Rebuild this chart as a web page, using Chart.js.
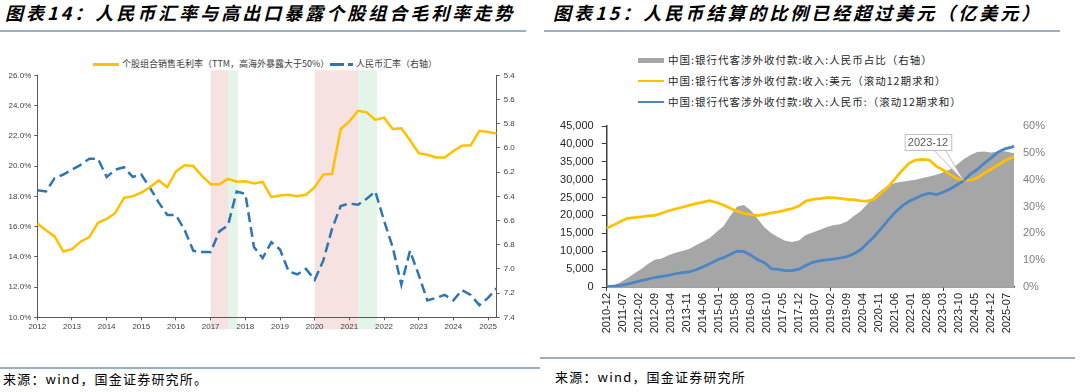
<!DOCTYPE html>
<html>
<head>
<meta charset="utf-8">
<script src="https://cdn.jsdelivr.net/npm/chart.js@4.4.1/dist/chart.umd.min.js"></script>
<style>
  body { margin: 0; background: #fff; width: 1080px; height: 392px; position: relative; overflow: hidden; font-family: "Noto Sans CJK SC", sans-serif; }
  .title { position: absolute; top: 0; line-height: 24px; font-size: 18px; font-weight: bold; font-style: italic; letter-spacing: 3px; color: #000; white-space: nowrap; }
  .rule { position: absolute; height: 2px; background: #98b0c2; }
  .src { position: absolute; font-size: 13px; line-height: 16px; color: #000; white-space: nowrap; letter-spacing: 1.2px; }
  .lg { position: absolute; font-size: 9px; line-height: 12px; color: #404040; white-space: nowrap; }
  .lg2 { position: absolute; font-size: 10.5px; line-height: 14px; color: #262626; white-space: nowrap; letter-spacing: 1px; }
  .sw { position: absolute; }
  canvas { position: absolute; }
</style>
</head>
<body>
<div class="title" style="left:5px">图表14：人民币汇率与高出口暴露个股组合毛利率走势</div>
<div class="title" style="left:553px">图表15：人民币结算的比例已经超过美元（亿美元）</div>
<div class="rule" style="left:0;width:526px;top:30px"></div>
<div class="rule" style="left:544px;width:516px;top:30px"></div>

<!-- left legend -->
<div class="sw" style="left:93px;top:63px;width:26px;height:2.5px;background:#ffc000"></div>
<div class="lg" style="left:122px;top:58px">个股组合销售毛利率（TTM，高海外暴露大于50%）</div>
<div class="sw" style="left:330px;top:63px;width:14px;height:2.5px;background:#2e75b6"></div>
<div class="sw" style="left:348px;top:63px;width:5px;height:2.5px;background:#2e75b6"></div>
<div class="lg" style="left:356px;top:58px">人民币汇率（右轴）</div>

<!-- right legend -->
<div class="sw" style="left:638px;top:58px;width:26px;height:5px;background:#a6a6a6"></div>
<div class="lg2" style="left:668px;top:53px">中国:银行代客涉外收付款:收入:人民币占比（右轴）</div>
<div class="sw" style="left:638px;top:79.5px;width:26px;height:2.5px;background:#ffc000"></div>
<div class="lg2" style="left:668px;top:74px">中国:银行代客涉外收付款:收入:美元（滚动12期求和）</div>
<div class="sw" style="left:638px;top:100.5px;width:26px;height:2.5px;background:#4a86c6"></div>
<div class="lg2" style="left:668px;top:95px">中国:银行代客涉外收付款:收入:人民币:（滚动12期求和）</div>

<canvas id="left" width="540" height="305" style="left:0;top:40px"></canvas>
<canvas id="right" width="540" height="240" style="left:540px;top:110px"></canvas>

<div class="rule" style="left:0;width:540px;top:367px"></div>
<div class="rule" style="left:540px;width:535px;top:357px"></div>
<div class="src" style="left:3px;top:371px">来源：wind，国金证券研究所。</div>
<div class="src" style="left:555px;top:369px">来源：wind，国金证券研究所</div>

<script>
// ---------- chart 14 data (quarterly) ----------
const quarters = [
  '2012Q1','2012Q2','2012Q3','2012Q4','2013Q1','2013Q2','2013Q3','2013Q4',
  '2014Q1','2014Q2','2014Q3','2014Q4','2015Q1','2015Q2','2015Q3','2015Q4',
  '2016Q1','2016Q2','2016Q3','2016Q4','2017Q1','2017Q2','2017Q3','2017Q4',
  '2018Q1','2018Q2','2018Q3','2018Q4','2019Q1','2019Q2','2019Q3','2019Q4',
  '2020Q1','2020Q2','2020Q3','2020Q4','2021Q1','2021Q2','2021Q3','2021Q4',
  '2022Q1','2022Q2','2022Q3','2022Q4','2023Q1','2023Q2','2023Q3','2023Q4',
  '2024Q1','2024Q2','2024Q3','2024Q4','2025Q1','2025Q2'
];
const grossMargin = [
  16.2, 15.75, 15.35, 14.35, 14.5, 15.0, 15.3, 16.25,
  16.5, 16.9, 17.9, 18.0, 18.25, 18.6, 19.05, 18.6,
  19.65, 20.05, 20.0, 19.35, 18.8, 18.8, 19.15, 18.97,
  19.0, 18.85, 18.95, 17.95, 18.05, 18.1, 18.0, 18.1,
  18.6, 19.45, 19.47, 22.45, 22.95, 23.65, 23.55, 23.05,
  23.2, 22.45, 22.5, 21.7, 20.85, 20.75, 20.57, 20.57,
  21.0, 21.35, 21.37, 22.33, 22.25, 22.15
];
const cnyRate = [
  6.35, 6.36, 6.25, 6.22, 6.18, 6.14, 6.09, 6.09,
  6.24, 6.18, 6.16, 6.24, 6.22, 6.33, 6.45, 6.555,
  6.555, 6.68, 6.85, 6.86, 6.86, 6.69, 6.64, 6.36,
  6.38, 6.82, 6.91, 6.78, 6.84, 7.02, 7.045, 7.0,
  7.09, 6.93, 6.67, 6.48, 6.46, 6.47, 6.42, 6.36,
  6.6, 6.82, 7.13, 6.85, 7.05, 7.26, 7.24, 7.215,
  7.26, 7.175, 7.215, 7.3, 7.24, 7.16
];
// shaded periods (years)
const shadeFrom = [2017, 2017.5, 2020, 2021.25];
const shadeTo = [2017.5, 2017.78, 2021.25, 2021.8];
const shadeColors = ['#f5e2e1', '#e3f4e8', '#f5e2e1', '#e3f4e8'];

// ---------- chart 15 data (monthly readings every quarter) ----------
const sampleMonths = [
  '2010-12','2011-03','2011-06','2011-09','2011-12','2012-03','2012-06','2012-09','2012-12',
  '2013-03','2013-06','2013-09','2013-12','2014-03','2014-06','2014-09','2014-12',
  '2015-03','2015-06','2015-09','2015-12','2016-03','2016-06','2016-09','2016-12',
  '2017-03','2017-06','2017-09','2017-12','2018-03','2018-06','2018-09','2018-12',
  '2019-03','2019-06','2019-09','2019-12','2020-03','2020-06','2020-09','2020-12',
  '2021-03','2021-06','2021-09','2021-12','2022-03','2022-06','2022-09','2022-12',
  '2023-03','2023-06','2023-09','2023-12','2024-03','2024-06','2024-09','2024-12',
  '2025-03','2025-06','2025-09','2025-10'
];
const usdSettle = [
  16400, 17300, 18300, 19200, 19400, 19600, 19900, 20050, 20600,
  21300, 21800, 22300, 22800, 23300, 23700, 24100, 23600,
  22900, 22000, 21200, 20600, 20250, 19950, 20300, 20700,
  21000, 21500, 21900, 22600, 24000, 24500, 24700, 25000,
  25000, 24800, 24500, 24400, 24100, 24000, 24600, 26300,
  28000, 30200, 32500, 34500, 35500, 35700, 35500, 33800,
  32700, 31500, 30300, 29700, 29900, 30500, 31800, 32900,
  34100, 35300, 36200, 36400
];
const rmbSettle = [
  100, 250, 450, 800, 1300, 1800, 2200, 2650, 2950,
  3250, 3700, 4000, 4200, 4800, 5600, 6500, 7500,
  8200, 9100, 10050, 9900, 8900, 7600, 6800, 5100,
  4900, 4600, 4600, 5000, 6000, 6900, 7300, 7600,
  7800, 8100, 8500, 9300, 10400, 12300, 14200, 16400,
  18700, 20800, 22600, 23900, 24800, 25700, 26200, 25800,
  26500, 27400, 28500, 29700, 31600, 32900, 34600, 36100,
  37700, 38600, 39100, 39400
];
const rmbShare = [
  0, 0.5, 1.8, 3.3, 5.0, 6.6, 8.6, 10.2, 10.6,
  11.8, 12.8, 13.4, 14.2, 15.6, 16.9, 18.3, 20.5,
  22.6, 26.5, 30.0, 30.6, 28.5, 25.3, 22.2, 20.0,
  18.5, 17.2, 16.8, 17.3, 19.4, 20.3, 21.2, 22.3,
  23.0, 23.4, 24.4, 26.5, 28.2, 31.0, 33.8, 36.1,
  37.8, 38.8, 39.2, 39.6, 40.0, 40.6, 41.2, 41.8,
  42.7, 43.8, 45.6, 47.6, 49.2, 50.3, 50.5, 50.1,
  50.4, 50.6, 50.0, 49.8
];
const tickMonths = [
  '2010-12','2011-07','2012-02','2012-09','2013-04','2013-11','2014-06','2015-01',
  '2015-08','2016-03','2016-10','2017-05','2017-12','2018-07','2019-02','2019-09',
  '2020-04','2020-11','2021-06','2022-01','2022-08','2023-03','2023-10','2024-05',
  '2024-12','2025-07'
];
const calloutMonth = '2023-12';

// full month category axis 2010-12 .. 2025-10
const months = [];
for (let i = 0; i < 179; i++) {
  const t = 2010 * 12 + 11 + i;
  months.push(Math.floor(t / 12) + '-' + String(t % 12 + 1).padStart(2, '0'));
}

const AXIS = '#595959';
const tickFont = (size) => ({ family: 'Liberation Sans, Arial, sans-serif', size });

function quarterPos(q) {
  return Number(q.slice(0, 4)) + (Number(q.slice(5)) - 1) / 4;
}

const bandPlugin = {
  id: 'bands',
  beforeDraw(chart) {
    const { ctx, chartArea, scales: { x } } = chart;
    ctx.save();
    shadeFrom.forEach((f, i) => {
      const x0 = x.getPixelForValue(f);
      const x1 = x.getPixelForValue(shadeTo[i]);
      ctx.fillStyle = shadeColors[i];
      ctx.fillRect(x0, chartArea.top - 5, x1 - x0, chartArea.bottom - chartArea.top + 17);
    });
    ctx.restore();
  }
};

new Chart(document.getElementById('left'), {
  type: 'line',
  data: {
    datasets: [
      {
        label: '个股组合销售毛利率（TTM，高海外暴露大于50%）',
        data: quarters.map((q, i) => ({ x: quarterPos(q), y: grossMargin[i] })),
        yAxisID: 'y',
        borderColor: '#ffc000',
        borderWidth: 2.5,
        pointRadius: 0,
        tension: 0
      },
      {
        label: '人民币汇率（右轴）',
        data: quarters.map((q, i) => ({ x: quarterPos(q), y: cnyRate[i] })),
        yAxisID: 'y1',
        borderColor: '#2e75b6',
        borderWidth: 2.5,
        borderDash: [10, 5],
        pointRadius: 0,
        tension: 0
      }
    ]
  },
  options: {
    responsive: false,
    animation: false,
    devicePixelRatio: 1,
    layout: { padding: { top: 35.3, left: 0, right: 0, bottom: 0 } },
    plugins: { legend: { display: false }, tooltip: { enabled: false } },
    scales: {
      x: {
        type: 'linear', min: 2012, max: 2025.25,
        afterFit: (s) => { s.height = 27.7; },
        ticks: { stepSize: 1, includeBounds: false, maxRotation: 0, padding: 2, color: '#404040', font: tickFont(8),
          callback: (v) => String(Math.round(v)) },
        grid: { drawOnChartArea: false, tickLength: 3, color: AXIS },
        border: { color: AXIS, width: 1 }
      },
      y: {
        position: 'left', min: 10, max: 26,
        afterFit: (s) => { s.width = 37.3; },
        ticks: { stepSize: 2, padding: 3, color: '#404040', font: tickFont(8), callback: (v) => v.toFixed(1) + '%' },
        grid: { drawOnChartArea: false, tickLength: 3, color: AXIS },
        border: { color: AXIS, width: 1 }
      },
      y1: {
        position: 'right', reverse: true, min: 5.4, max: 7.4,
        afterFit: (s) => { s.width = 43.3; },
        ticks: { stepSize: 0.2, padding: 4, color: '#404040', font: tickFont(8), callback: (v) => v.toFixed(1) },
        grid: { drawOnChartArea: false, tickLength: 3, color: AXIS },
        border: { color: AXIS, width: 1 }
      }
    }
  },
  plugins: [bandPlugin]
});

const calloutPlugin = {
  id: 'callout',
  afterDatasetsDraw(chart) {
    const { ctx, scales: { x, y } } = chart;
    const px = x.getPixelForValue(months.indexOf(calloutMonth));
    const py = y.getPixelForValue(rmbSettle[sampleMonths.indexOf(calloutMonth)]);
    const left = px - 59, right = px - 12.4, top = py - 46.7, bottom = py - 30.7;
    ctx.save();
    ctx.strokeStyle = '#bfbfbf';
    ctx.lineWidth = 1;
    ctx.fillStyle = '#fff';
    ctx.beginPath();
    ctx.moveTo(px - 30, bottom);
    ctx.lineTo(px, py);
    ctx.lineTo(px - 18.4, bottom);
    ctx.closePath();
    ctx.fill();
    ctx.stroke();
    ctx.fillRect(left, top, right - left, bottom - top);
    ctx.strokeRect(left + 0.5, top + 0.5, right - left, bottom - top);
    ctx.fillStyle = '#595959';
    ctx.font = '11px "Liberation Sans", Arial, sans-serif';
    ctx.textAlign = 'center';
    ctx.textBaseline = 'middle';
    ctx.fillText(calloutMonth, (left + right) / 2, (top + bottom) / 2 + 1);
    ctx.restore();
  }
};

new Chart(document.getElementById('right'), {
  type: 'line',
  data: {
    labels: months,
    datasets: [
      {
        label: '中国:银行代客涉外收付款:收入:人民币:（滚动12期求和）',
        data: sampleMonths.map((m, i) => ({ x: m, y: rmbSettle[i] })),
        yAxisID: 'y',
        borderColor: '#4a86c6',
        borderWidth: 2.75,
        pointRadius: 0,
        tension: 0
      },
      {
        label: '中国:银行代客涉外收付款:收入:美元（滚动12期求和）',
        data: sampleMonths.map((m, i) => ({ x: m, y: usdSettle[i] })),
        yAxisID: 'y',
        borderColor: '#ffc000',
        borderWidth: 2.75,
        pointRadius: 0,
        tension: 0
      },
      {
        label: '中国:银行代客涉外收付款:收入:人民币占比（右轴）',
        data: sampleMonths.map((m, i) => ({ x: m, y: rmbShare[i] })),
        yAxisID: 'y1',
        backgroundColor: '#a6a6a6',
        borderWidth: 0,
        fill: 'origin',
        pointRadius: 0,
        tension: 0
      }
    ]
  },
  options: {
    responsive: false,
    animation: false,
    devicePixelRatio: 1,
    layout: { padding: { top: 16, left: 0, right: 0, bottom: 0 } },
    plugins: { legend: { display: false }, tooltip: { enabled: false } },
    scales: {
      x: {
        type: 'category',
        afterFit: (s) => { s.height = 63; },
        ticks: { autoSkip: false, minRotation: 90, maxRotation: 90, padding: 2, color: '#262626', font: tickFont(11),
          callback: (v, i) => tickMonths.includes(months[i]) ? months[i] : null },
        grid: { drawOnChartArea: false, tickLength: 4,
          tickColor: (c) => tickMonths.includes(months[c.index]) ? '#404040' : 'rgba(0,0,0,0)' },
        border: { color: '#404040', width: 1.5 }
      },
      y: {
        position: 'left', min: 0, max: 45000,
        afterFit: (s) => { s.width = 66.7; },
        ticks: { stepSize: 5000, padding: 8, color: '#262626', font: tickFont(11), callback: (v) => v.toLocaleString('en-US') },
        grid: { drawOnChartArea: false, tickLength: 5, color: '#404040' },
        border: { color: '#404040', width: 1.5 }
      },
      y1: {
        position: 'right', min: 0, max: 60,
        afterFit: (s) => { s.width = 66; },
        ticks: { stepSize: 10, padding: 9, color: '#7f7f7f', font: tickFont(11), callback: (v) => v + '%' },
        grid: { display: false, drawTicks: false },
        border: { display: false }
      }
    }
  },
  plugins: [calloutPlugin]
});
</script>
</body>
</html>
